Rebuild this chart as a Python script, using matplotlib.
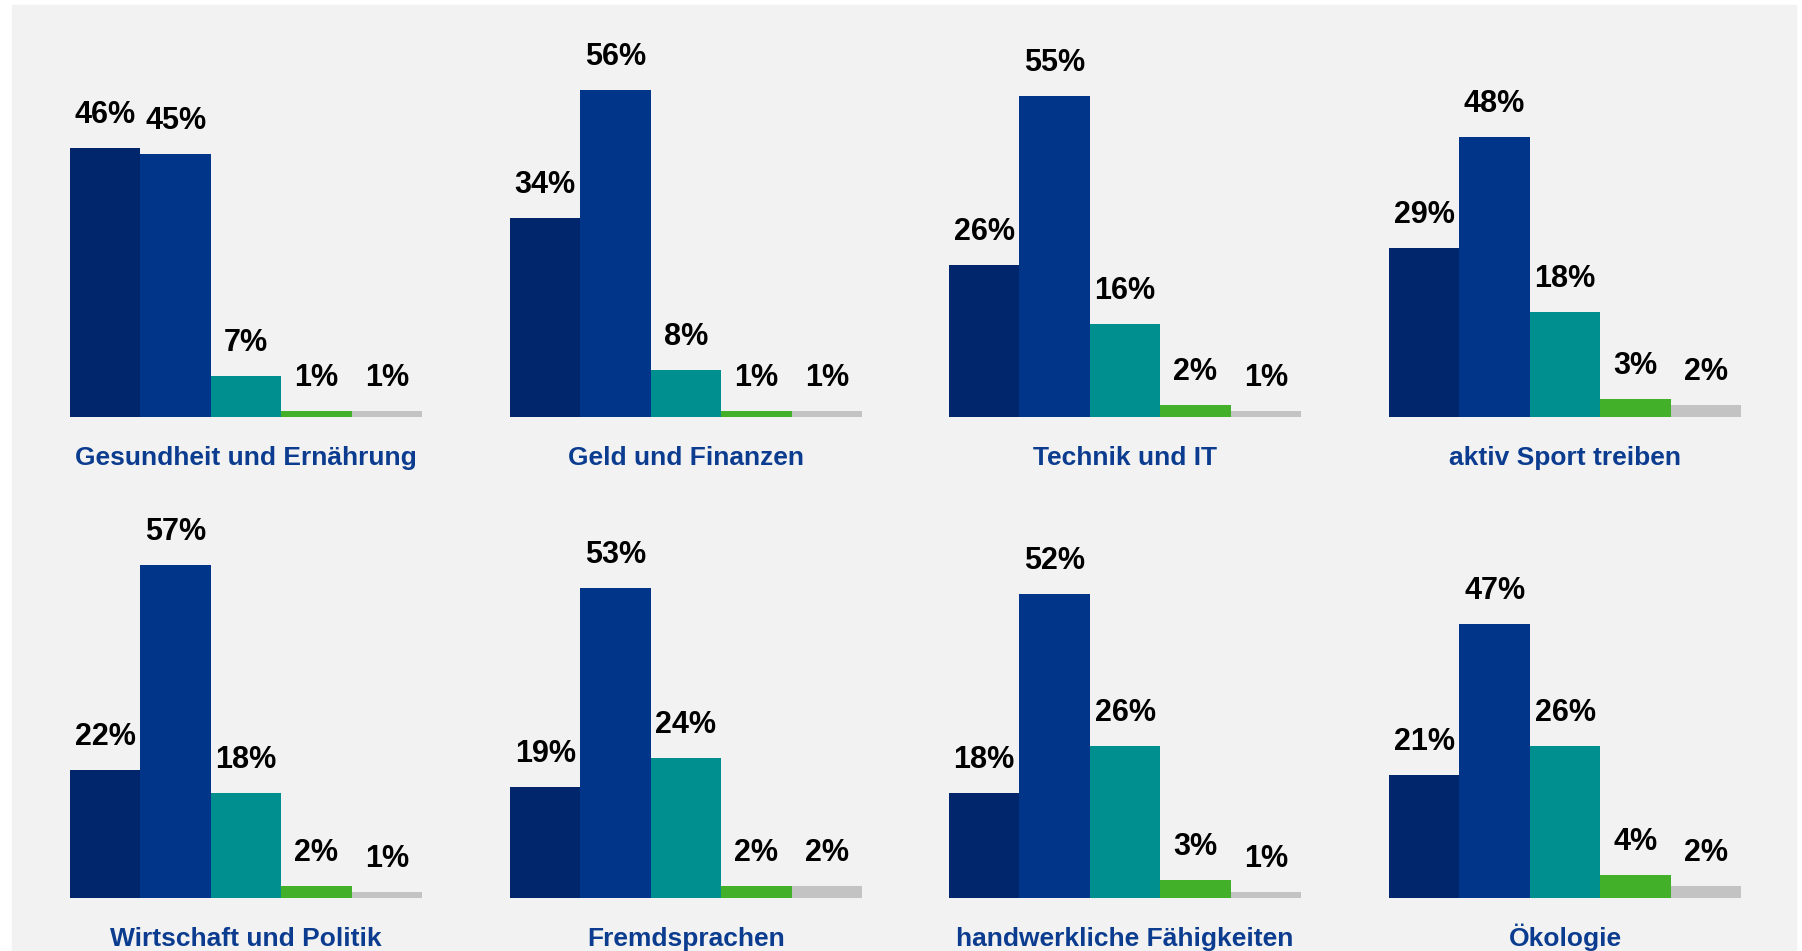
import numpy as np
import matplotlib
matplotlib.use("Agg")
from matplotlib import pyplot as plt
from matplotlib.patches import Rectangle

# topics (panels, left to right, top to bottom)
topics = ["Gesundheit und Ernährung", "Geld und Finanzen", "Technik und IT", "aktiv Sport treiben",
          "Wirtschaft und Politik", "Fremdsprachen", "handwerkliche Fähigkeiten", "Ökologie"]

# five answer groups per topic, in %
s1 = [46, 34, 26, 29, 22, 19, 18, 21]
s2 = [45, 56, 55, 48, 57, 53, 52, 47]
s3 = [7, 8, 16, 18, 18, 24, 26, 26]
s4 = [1, 1, 2, 3, 2, 2, 3, 4]
s5 = [1, 1, 1, 2, 1, 2, 1, 2]

colors = ["#02266B", "#00358A", "#008F8F", "#43B02A", "#C3C3C3"]
label_blue = "#0B3C8F"

plt.rcParams["font.family"] = ["Liberation Sans", "DejaVu Sans"]

W, H = 1802, 951
fig = plt.figure(figsize=(W / 100, H / 100), dpi=100)
fig.patch.set_facecolor("white")
fig.patches.append(Rectangle((12 / W, 0), (1796 - 12) / W, (H - 5) / H,
                             transform=fig.transFigure, color="#F2F2F2", zorder=-10))

x_left = [70, 510, 949, 1389]
baselines = [417, 898]
group_w = 352
px_per_pct = 5.84
ymax = 60

for i, topic in enumerate(topics):
    row, col = divmod(i, 4)
    vals = [s1[i], s2[i], s3[i], s4[i], s5[i]]
    h = ymax * px_per_pct
    ax = fig.add_axes([x_left[col] / W, (H - baselines[row]) / H, group_w / W, h / H])
    ax.set_facecolor("none")
    ax.set_zorder(1)
    x = np.arange(5)
    ax.bar(x, vals, width=1.0, color=colors, linewidth=0)
    ax.set_xlim(-0.5, 4.5)
    ax.set_ylim(0, ymax)
    ax.axis("off")
    for xi, v in zip(x, vals):
        ax.annotate("%d%%" % v, (xi, v), xytext=(0, 25), textcoords="offset pixels",
                    ha="center", va="baseline", fontsize=22, fontweight="bold",
                    color="black", annotation_clip=False)
    ax.annotate(topic, (2, 0), xytext=(0, -48), textcoords="offset pixels",
                ha="center", va="baseline", fontsize=19, fontweight="bold",
                color=label_blue, annotation_clip=False)

fig.savefig("out.png", dpi=100, facecolor=fig.get_facecolor())
